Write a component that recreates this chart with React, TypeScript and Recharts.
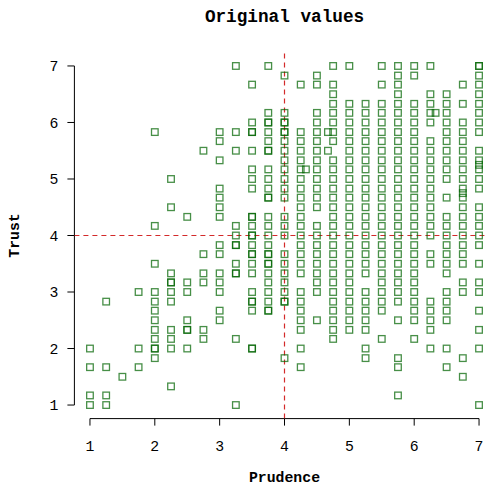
import { ScatterChart, Scatter, XAxis, YAxis, ReferenceLine } from 'recharts';

// prudence levels (x) and the trust values (y) seen in each column
const prudenceLevels = [1, 1.25, 1.5, 1.75, 2, 2.25, 2.5, 2.75, 3, 3.25, 3.5, 3.75, 4, 4.25, 4.5, 4.75, 5, 5.25, 5.5, 5.75, 6, 6.25, 6.5, 6.75, 7];

const trustByLevel: number[][] = [
  [2, 1.67, 1.17, 1],
  [2.83, 1.67, 1.17, 1],
  [1.5],
  [3, 2, 1.67],
  [5.83, 4.17, 3.5, 3, 2.83, 2.67, 2.5, 2.33, 2.17, 2, 2, 1.83],
  [5, 4.5, 3.33, 3.17, 3.17, 3, 2.83, 2.33, 2.17, 2, 1.33],
  [4.33, 3.17, 3, 2.5, 2.33, 2.33, 2],
  [5.5, 3.67, 3.33, 3.17, 2.33, 2.17],
  [5.83, 5.67, 5.33, 4.83, 4.67, 4.5, 4.33, 3.83, 3.67, 3.33, 3.17, 3, 2.67, 2.5],
  [7, 5.83, 5.5, 4.17, 4, 3.83, 3.83, 3.5, 3.33, 3.33, 2.17, 1],
  [6.67, 6, 5.83, 5.83, 5.5, 5.17, 5, 4.83, 4.33, 4.33, 4.17, 4, 4, 3.83, 3.67, 3.67, 3.5, 3.33, 3, 2.83, 2.83, 2.67, 2, 2],
  [7, 6.17, 6, 6, 5.83, 5.67, 5.5, 5.5, 5.17, 5, 4.83, 4.67, 4.67, 4.33, 4.17, 4, 3.83, 3.67, 3.67, 3.5, 3.5, 3.33, 3.17, 3, 2.83, 2.67, 2.67],
  [6.83, 6.17, 6, 6, 5.83, 5.83, 5.67, 5.5, 5.33, 5.17, 5, 4.83, 4.67, 4.33, 4.17, 4, 3.67, 3.5, 3.33, 3.17, 3, 2.83, 2.83, 1.83],
  [6.67, 5.83, 5.67, 5.5, 5.33, 5.17, 5, 4.83, 4.67, 4.5, 4.33, 4.17, 4, 3.83, 3.67, 3.5, 3.33, 3, 2.83, 2.67, 2.5, 2.33, 2, 1.67],
  [6.83, 6.67, 6.17, 6, 5.83, 5.67, 5.5, 5.33, 5.17, 5, 4.83, 4.67, 4.5, 4.17, 4, 3.83, 3.67, 3.5, 3.33, 3.17, 3, 2.5],
  [7, 6.67, 6.5, 6.33, 6.17, 6, 5.83, 5.67, 5.33, 5.17, 5, 4.83, 4.67, 4.5, 4.33, 4.17, 4, 3.83, 3.67, 3.5, 3.33, 3.17, 3, 2.83, 2.67, 2.5, 2.33, 2.17],
  [7, 6.33, 6.17, 6, 5.83, 5.67, 5.5, 5.33, 5.17, 5, 4.83, 4.67, 4.5, 4.33, 4.17, 4, 3.83, 3.67, 3.5, 3.33, 3.17, 3, 2.83, 2.67, 2.5, 2.33],
  [6.33, 6.17, 6, 5.83, 5.67, 5.5, 5.33, 5.17, 5, 4.83, 4.67, 4.5, 4.33, 4.17, 4, 3.83, 3.67, 3.5, 3.33, 3, 2.83, 2.67, 2.5, 2.33, 2, 1.83],
  [7, 6.67, 6.33, 6.17, 6, 5.83, 5.67, 5.5, 5.33, 5.17, 5, 4.83, 4.67, 4.5, 4.33, 4.17, 4, 3.83, 3.67, 3.5, 3.33, 3.17, 3, 2.83, 2.67, 2.17],
  [7, 6.83, 6.67, 6.5, 6.33, 6.17, 6, 5.83, 5.67, 5.5, 5.33, 5.17, 5, 4.83, 4.67, 4.5, 4.33, 4.17, 4, 3.83, 3.67, 3.5, 3.33, 3.17, 3, 2.83, 2.5, 1.83, 1.67, 1.17],
  [7, 6.83, 6.33, 6.17, 6, 5.83, 5.67, 5.5, 5.33, 5.17, 5, 4.83, 4.67, 4.5, 4.33, 4.17, 4, 3.83, 3.67, 3.5, 3.33, 3.17, 3, 2.83, 2.67, 2.5, 2.17],
  [7, 6.5, 6.33, 6.17, 6, 5.67, 5.5, 5.33, 5.17, 5, 4.83, 4.67, 4.5, 4.33, 4.17, 4, 3.67, 3.5, 2.83, 2.67, 2.5, 2.33, 2],
  [6.5, 6.33, 6.17, 6, 5.83, 5.67, 5.5, 5.33, 5.17, 5, 4.67, 4.33, 4.17, 4, 3.83, 3.67, 3.5, 3.33, 3, 2.83, 2.67, 2.5, 2, 1.67],
  [6.67, 6.33, 6, 5.83, 5.67, 5.5, 5.33, 5.17, 5, 4.83, 4.75, 4.67, 4.5, 4.33, 4.17, 4, 3.83, 3.67, 3.5, 3.17, 3, 1.83, 1.5],
  [7, 7, 6.83, 6.67, 6.5, 6.33, 6.17, 6, 5.83, 5.5, 5.33, 5.25, 5.17, 5, 4.83, 4.5, 4.33, 4.17, 4, 3.83, 3.5, 3.17, 3, 2.67, 2.33, 2, 1],
];

// a few off-grid respondents
const extraPrudence = [4.33, 4.67, 4.67, 6.33];
const extraTrust = [5.17, 5.83, 5.5, 6.17];

const axisTicks = [1, 2, 3, 4, 5, 6, 7];
const cutPrudence = 4;
const cutTrust = 4;

const points = [
  ...prudenceLevels.flatMap((x, i) => trustByLevel[i].map(y => ({ x, y }))),
  ...extraPrudence.map((x, i) => ({ x, y: extraTrust[i] })),
];

const mono = '"Liberation Mono", "DejaVu Sans Mono", monospace';
const domain: [number, number] = [0.76, 7.24];
const cutColor = '#d32a2a';

const Square = (props: any) => {
  const { cx, cy } = props;
  if (cx == null || cy == null) return null;
  return (
    <rect
      x={cx - 3.3}
      y={cy - 3.3}
      width={6.6}
      height={6.6}
      fill="none"
      stroke="#006400"
      strokeOpacity={0.72}
      strokeWidth={1.3}
    />
  );
};

export default function App() {
  return (
    <div style={{ position: 'absolute', left: 0, top: 0, width: 487, height: 486, overflow: 'hidden', background: '#fff' }}>
      <ScatterChart
        width={500}
        height={486}
        margin={{ top: 52.4, right: 5.4, bottom: 7.4, left: 0 }}
      >
        <XAxis
          type="number"
          dataKey="x"
          domain={domain}
          ticks={axisTicks}
          axisLine={false}
          tickLine={{ stroke: '#000' }}
          tickSize={7}
          tickMargin={15}
          height={60}
          tick={{ fill: '#000', fontFamily: mono, fontSize: 14.8 }}
          allowDataOverflow
        />
        <YAxis
          type="number"
          dataKey="y"
          domain={domain}
          ticks={axisTicks}
          axisLine={false}
          tickLine={{ stroke: '#000' }}
          tickSize={7}
          tickMargin={9}
          width={74.4}
          tick={{ fill: '#000', fontFamily: mono, fontSize: 14.8 }}
          allowDataOverflow
        />
        {/* axis lines only between first and last tick, as R draws them */}
        <ReferenceLine
          segment={[{ x: axisTicks[0], y: domain[0] }, { x: axisTicks[axisTicks.length - 1], y: domain[0] }]}
          stroke="#000"
          ifOverflow="visible"
        />
        <ReferenceLine
          segment={[{ x: domain[0], y: axisTicks[0] }, { x: domain[0], y: axisTicks[axisTicks.length - 1] }]}
          stroke="#000"
          ifOverflow="visible"
        />
        <ReferenceLine
          segment={[{ x: domain[0], y: cutTrust }, { x: domain[1], y: cutTrust }]}
          stroke={cutColor}
          strokeWidth={1.2}
          strokeDasharray="5 4"
          ifOverflow="visible"
        />
        <ReferenceLine
          segment={[{ x: cutPrudence, y: domain[0] }, { x: cutPrudence, y: domain[1] }]}
          stroke={cutColor}
          strokeWidth={1.2}
          strokeDasharray="5 4"
          ifOverflow="visible"
        />
        <Scatter data={points} shape={Square} isAnimationActive={false} />
      </ScatterChart>
      <svg width={487} height={486} style={{ position: 'absolute', left: 0, top: 0, pointerEvents: 'none' }}>
        <text x={284.5} y={22} textAnchor="middle" fontFamily={mono} fontWeight="bold" fontSize={17.7}>
          Original values
        </text>
        <text x={284.5} y={481.5} textAnchor="middle" fontFamily={mono} fontWeight="bold" fontSize={14.8}>
          Prudence
        </text>
        <text
          x={19}
          y={235.5}
          textAnchor="middle"
          fontFamily={mono}
          fontWeight="bold"
          fontSize={14.8}
          transform="rotate(-90 19 235.5)"
        >
          Trust
        </text>
      </svg>
    </div>
  );
}
